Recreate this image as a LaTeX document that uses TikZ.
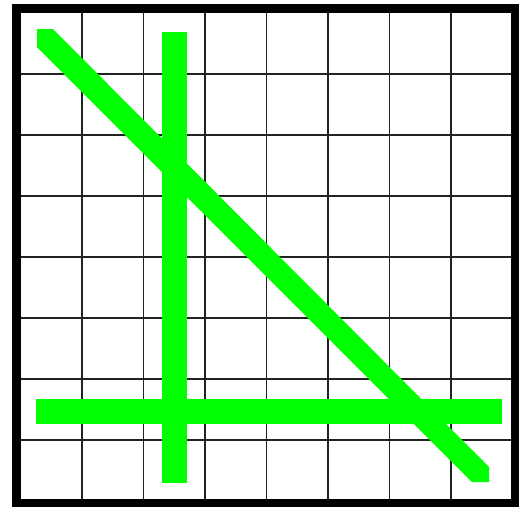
\documentclass[tikz,border=0pt]{standalone}
\definecolor{brightgreen}{HTML}{00FF00}
\definecolor{gridgray}{HTML}{222222}
\tikzset{
  gridline/.style={draw=gridgray, line width=1.4pt},
  frameline/.style={draw=black, line width=8.5pt},
  greenbar/.style={fill=brightgreen, draw=none}
}
\begin{document}
\begin{tikzpicture}[x=1pt,y=-1pt]
  \useasboundingbox (0,0) rectangle (522,506);
  \fill[white] (0,0) rectangle (522,506);
  % grid
  \foreach \i in {1,...,7} {
    \draw[gridline] ({20.5+61.5*\i},13) -- ({20.5+61.5*\i},500);
    \draw[gridline] (21,{13+61*\i}) -- (511,{13+61*\i});
  }
  % green bars
  \fill[greenbar] (162,32) rectangle (187,483);
  \fill[greenbar] (36,399) rectangle (502,424);
  \fill[greenbar] (37,29) -- (53,29) -- (489,467) -- (489,482) -- (472,482) -- (37,47) -- cycle;
  % frame
  \draw[frameline] (16.5,8.5) rectangle (515,503);
\end{tikzpicture}
\end{document}
